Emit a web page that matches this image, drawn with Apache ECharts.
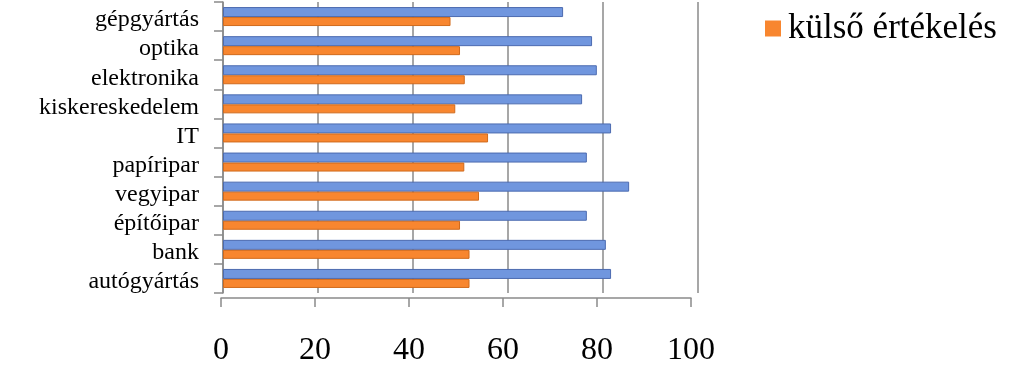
<!DOCTYPE html>
<html>
<head>
<meta charset="utf-8">
<script src="https://cdn.jsdelivr.net/npm/echarts@6/dist/echarts.min.js"></script>
<style>
html,body{margin:0;padding:0;background:#fff;}
#chart{width:1023px;height:387px;}
</style>
</head>
<body>
<div id="chart"></div>
<script>
// categories listed bottom to top
var categories = ['autógyártás','bank','építőipar','vegyipar','papíripar','IT','kiskereskedelem','elektronika','optika','gépgyártás'];
var belsoErtekeles = [81.7, 80.6, 76.6, 85.5, 76.6, 81.7, 75.6, 78.7, 77.7, 71.6];
var kulsoErtekeles = [51.9, 51.9, 49.9, 53.9, 50.8, 55.8, 48.9, 50.9, 49.9, 47.9];
var xTicks = [0, 20, 40, 60, 80, 100];

var serif = '"Liberation Serif", "DejaVu Serif", serif';
var chart = echarts.init(document.getElementById('chart'));
chart.setOption({
  animation: false,
  backgroundColor: '#ffffff',
  legend: {
    data: ['külső értékelés'],
    left: 760,
    top: 6,
    itemWidth: 16,
    itemHeight: 16,
    icon: 'rect',
    itemStyle: {borderWidth: 0},
    textStyle: {fontFamily: serif, fontSize: 35, color: '#000', padding: [0,0,0,2]}
  },
  grid: [
    {left: 223, right: 325, top: 2, bottom: 94, containLabel: false},
    {left: 221, right: 332, top: 2, bottom: 89, containLabel: false}
  ],
  xAxis: [
    {
      type: 'value', gridIndex: 0, min: xTicks[0], max: xTicks[xTicks.length-1], interval: 20,
      axisLine: {show: false}, axisTick: {show: false}, axisLabel: {show: false},
      splitLine: {show: true, lineStyle: {color: '#8a8a8a', width: 1.5}}
    },
    {
      type: 'value', gridIndex: 1, min: xTicks[0], max: xTicks[xTicks.length-1], interval: 20,
      axisLine: {show: true, lineStyle: {color: '#8a8a8a', width: 1.5}},
      axisTick: {show: true, length: 9, lineStyle: {color: '#8a8a8a', width: 1.5}},
      splitLine: {show: false},
      axisLabel: {show: true, margin: 37, fontFamily: serif, fontSize: 32, color: '#000',
        formatter: function (v) { return xTicks.indexOf(v) >= 0 ? String(v) : ''; }}
    }
  ],
  yAxis: [
    {
      type: 'category', gridIndex: 0, data: categories,
      axisLine: {show: true, lineStyle: {color: '#8a8a8a', width: 1.5}},
      axisTick: {show: true, length: 9, interval: 0, lineStyle: {color: '#8a8a8a', width: 1.5}},
      axisLabel: {interval: 0, margin: 24, color: '#000',
        formatter: function (v) { return '{c|' + v + '}'; },
        rich: {c: {fontFamily: serif, fontSize: 24, color: '#000', padding: [7, 0, 0, 0]}}}
    },
    {type: 'value', gridIndex: 1, show: false, min: 0, max: 1}
  ],
  series: [
    {
      name: 'belső értékelés', type: 'bar', xAxisIndex: 0, yAxisIndex: 0,
      data: belsoErtekeles, barWidth: 10, barGap: '0%',
      itemStyle: {color: '#7096DE', borderColor: '#4C6BB0', borderWidth: 1}
    },
    {
      name: 'külső értékelés', type: 'bar', xAxisIndex: 0, yAxisIndex: 0,
      data: kulsoErtekeles, barWidth: 9, barGap: '0%',
      itemStyle: {color: '#F8862F', borderColor: '#D06A1C', borderWidth: 1}
    }
  ]
});
</script>
</body>
</html>
